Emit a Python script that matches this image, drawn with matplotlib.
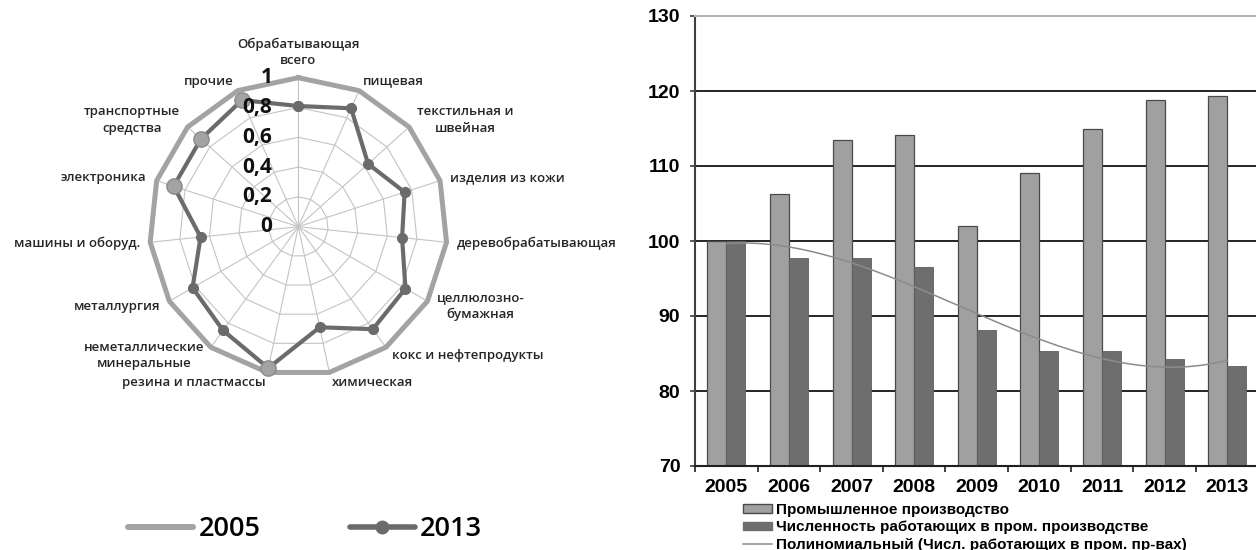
import numpy as np
import matplotlib
matplotlib.use('Agg')
from matplotlib import pyplot as plt
from matplotlib.transforms import offset_copy
from matplotlib.patches import Patch
from matplotlib.lines import Line2D

plt.rcParams['font.family'] = ['Liberation Sans', 'DejaVu Sans']

# Радиальная диаграмма по отраслям (2005 = 1)
branches = ['Обрабатывающая\nвсего', 'пищевая', 'текстильная и\nшвейная', 'изделия из кожи',
            'деревобрабатывающая', 'целлюлозно-\nбумажная', 'кокс и нефтепродукты', 'химическая',
            'резина и пластмассы', 'неметаллические\nминеральные', 'металлургия',
            'машины и оборуд.', 'электроника', 'транспортные\nсредства', 'прочие']
values_2005 = [1, 1, 1, 1, 1, 1, 1, 1, 1, 1, 1, 1, 1, 1, 1]
values_2013 = [0.81, 0.87, 0.63, 0.75, 0.70, 0.83, 0.85, 0.69, 0.97, 0.86, 0.82, 0.66, 0.88, 0.88, 0.93]
highlight = [8, 12, 13, 14]
ring_ticks = [0, 0.2, 0.4, 0.6, 0.8, 1]
ring_labels = ['0', '0,2', '0,4', '0,6', '0,8', '1']

# Индексы производства и численности работающих (2005 = 100)
years = ['2005', '2006', '2007', '2008', '2009', '2010', '2011', '2012', '2013']
production = [100, 106.3, 113.5, 114.2, 102.0, 109.1, 114.9, 118.8, 119.3]
workers = [100, 97.8, 97.8, 96.5, 88.1, 85.4, 85.4, 84.3, 83.4]

fig = plt.figure(figsize=(12.56, 5.5), dpi=100)

# --- радар ---
ax = fig.add_axes([0.1189, 0.3169, 0.2373, 0.5418], projection='polar')
ax.set_theta_zero_location('N')
ax.set_theta_direction(-1)
ax.set_ylim(0, 1)
ax.set_xticks([])
ax.set_yticks([])
ax.grid(False)
ax.spines['polar'].set_visible(False)
ax.patch.set_alpha(0)

n = len(branches)
theta = np.arange(n) * 2 * np.pi / n
closed = np.append(theta, theta[0])

grid_col = '#c4c4c4'
for r in ring_ticks[1:]:
    ax.plot(closed, np.full(n + 1, r), color=grid_col, lw=0.8, zorder=1, clip_on=False)
for t in theta:
    ax.plot([t, t], [0, 1], color=grid_col, lw=0.8, zorder=1, clip_on=False)

ax.plot(closed, np.append(values_2005, values_2005[0]), color='#a3a3a3', lw=3.6,
        zorder=2, clip_on=False)
ax.plot(closed, np.append(values_2013, values_2013[0]), color='#6b6b6b', lw=3.0,
        marker='o', markersize=7, zorder=3, clip_on=False)
ax.plot(theta[highlight], np.array(values_2013)[highlight], ls='none', marker='o',
        markersize=11, markerfacecolor='#a3a3a3', markeredgecolor='#8a8a8a', zorder=4,
        clip_on=False)

# подписи шкалы слева от верхнего луча
trans = offset_copy(ax.transData, fig=fig, x=-26, y=0, units='dots')
for r, lab in zip(ring_ticks, ring_labels):
    ax.text(0, r, lab, transform=trans, ha='right', va='center', fontsize=15,
            fontweight='bold', family='Open Sans', color='#111111', zorder=6)

for t, lab in zip(theta, branches):
    s, c = np.sin(t), np.cos(t)
    ha = 'left' if s > 0.1 else ('right' if s < -0.1 else 'center')
    va = 'bottom' if c > 0.95 else 'center'
    ax.text(t, 1.07, lab, ha=ha, va=va, multialignment='center', fontsize=9.5,
            family='Open Sans', fontweight='semibold', color='#262626', linespacing=1.35)

radar_handles = [Line2D([], [], color='#a3a3a3', lw=4.3, solid_capstyle='round'),
                 Line2D([], [], color='#6b6b6b', lw=4.0, solid_capstyle='round',
                        marker='o', markersize=9)]
fig.legend(radar_handles, ['2005', '2013'], loc='center left',
           bbox_to_anchor=(128 / 1256, 1 - 529 / 550), ncol=2, frameon=False,
           prop={'family': 'Open Sans', 'size': 19.5, 'weight': 'semibold'},
           handlelength=2.4, handletextpad=0.2, columnspacing=3.3, borderpad=0,
           borderaxespad=0)

# --- столбчатая диаграмма ---
bx = fig.add_axes([695 / 1256, 1 - 466 / 550, 563.6 / 1256, 450 / 550])
x = np.arange(len(years))
w = 0.303
bx.bar(x - w / 2, production, w, color='#a0a0a0', edgecolor='#4a4a4a', lw=0.9, zorder=2)
bx.bar(x + w / 2, workers, w, color='#6e6e6e', edgecolor='#5e5e5e', lw=0.6, zorder=2)

# полиномиальный тренд численности работающих
coef = np.polyfit(x, workers, 3)
xs = np.linspace(x[0], x[-1], 200)
bx.plot(xs, np.polyval(coef, xs), color='#8c8c8c', lw=1.1, zorder=3)

bx.set_xlim(-0.5, 8.5)
bx.set_ylim(70, 130)
bx.set_yticks(range(70, 131, 10))
bx.set_xticks(x)
bx.set_xticklabels(years)
bx.set_xticks(np.arange(-0.5, 9, 1), minor=True)
bx.tick_params(axis='x', which='major', length=0, pad=9.5, labelsize=14)
bx.tick_params(axis='x', which='minor', length=4.5, width=1.2, color='#202020')
bx.tick_params(axis='y', length=3.6, width=1.2, pad=7, labelsize=14, color='#404040')
for lab in bx.get_xticklabels() + bx.get_yticklabels():
    lab.set_fontweight('bold')

bx.yaxis.grid(True, color='black', lw=1.2, zorder=1)
bx.get_ygridlines()[-1].set_visible(False)
bx.set_axisbelow(True)
bx.spines['left'].set_color('#404040')
bx.spines['left'].set_linewidth(1.5)
bx.spines['bottom'].set_color('#202020')
bx.spines['bottom'].set_linewidth(1.5)
bx.spines['top'].set_color('#b4b4b4')
bx.spines['top'].set_linewidth(1.5)
bx.spines['right'].set_visible(False)

bar_handles = [Patch(facecolor='#a0a0a0', edgecolor='#4a4a4a'),
               Patch(facecolor='#6e6e6e', edgecolor='#6e6e6e'),
               Line2D([], [], color='#8c8c8c', lw=1.1)]
bar_labels = ['Промышленное производство',
              'Численность работающих в пром. производстве',
              'Полиномиальный (Числ. работающих в пром. пр-вах)']
fig.legend(bar_handles, bar_labels, loc='upper left',
           bbox_to_anchor=(743 / 1256, 1 - 503 / 550), frameon=False,
           prop={'family': 'Liberation Sans', 'size': 11, 'weight': 'bold'},
           handlelength=1.9, handleheight=0.5, handletextpad=0.25, labelspacing=0.22,
           borderpad=0, borderaxespad=0)

fig.savefig('out.png', dpi=100, facecolor='white')
